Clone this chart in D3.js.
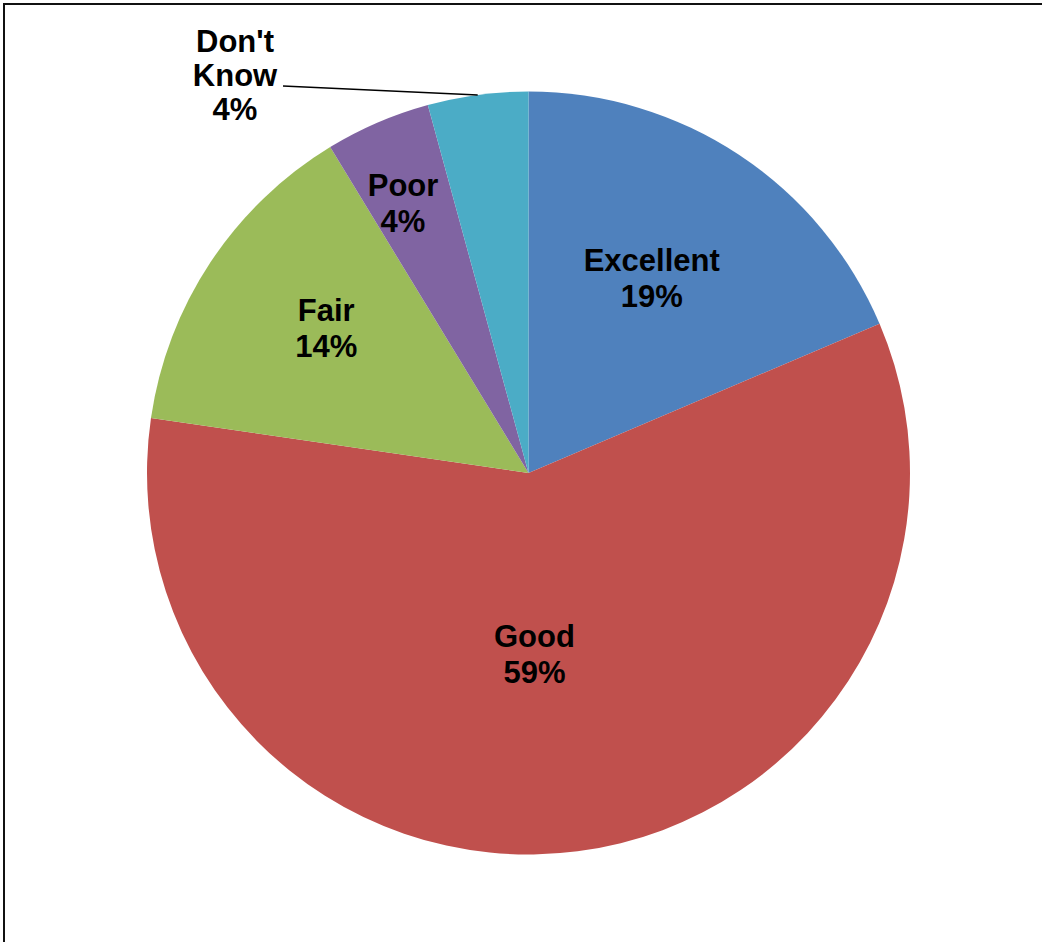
<!DOCTYPE html>
<html>
<head>
<meta charset="utf-8">
<script src="https://cdn.jsdelivr.net/npm/d3@7"></script>
<style>
  html, body { margin: 0; padding: 0; background: #fff; }
  svg { display: block; }
  text { font-family: "Liberation Sans", Arial, sans-serif; font-weight: bold; fill: #000; }
</style>
</head>
<body>
<svg id="chart" width="1042" height="942"></svg>
<script>
// Data
const categories = ["Excellent", "Good", "Fair", "Poor", "Don't Know"];
const values = [18.6, 58.7, 14.0, 4.45, 4.25];
const percentLabels = ["19%", "59%", "14%", "4%", "4%"];
const colors = ["#4F81BD", "#C0504D", "#9BBB59", "#8064A2", "#4BACC6"];

const W = 1042, H = 942;
const cx = 528.5, cy = 473, R = 381.5;
const svg = d3.select("#chart");

// Frame (only top and left edges visible)
svg.append("path")
  .attr("d", `M4,${H} V4 H${W}`)
  .attr("fill", "none")
  .attr("stroke", "#111")
  .attr("stroke-width", 2);

const data = categories.map((c, i) => ({ cat: c, value: values[i], pct: percentLabels[i], color: colors[i] }));

const pie = d3.pie().sort(null).value(d => d.value);
const arcs = pie(data);
const arc = d3.arc().innerRadius(0).outerRadius(R);

const g = svg.append("g").attr("transform", `translate(${cx},${cy})`);

g.selectAll("path.slice")
  .data(arcs)
  .join("path")
  .attr("class", "slice")
  .attr("d", arc)
  .attr("fill", d => d.data.color);

// Label placement (best-fit approximation): radius fraction and angle nudge (degrees)
const labelRadius = [0.605, 0.474, 0.652, 0.781];
const labelNudge = [-1.2, 5.5, 2.1, -1.6];
const fontSize = 31;
const lineH = 36;

arcs.forEach((a, i) => {
  if (i < 4) {
    const ang = (a.startAngle + a.endAngle) / 2 + labelNudge[i] * Math.PI / 180;
    const r = R * labelRadius[i];
    const x = r * Math.sin(ang);
    const y = -r * Math.cos(ang);
    const t = g.append("text")
      .attr("text-anchor", "middle")
      .attr("font-size", fontSize);
    t.append("tspan").attr("x", x).attr("y", y - 7).text(a.data.cat);
    t.append("tspan").attr("x", x).attr("y", y - 7 + lineH).text(a.data.pct);
  }
});

// Outside label with leader line for the last slice
const last = arcs[4];
const edge = d3.arc().innerRadius(R).outerRadius(R).centroid(last);
const labelAnchor = [283 - cx, 86 - cy];
g.append("line")
  .attr("x1", edge[0]).attr("y1", edge[1])
  .attr("x2", labelAnchor[0]).attr("y2", labelAnchor[1])
  .attr("stroke", "#000").attr("stroke-width", 1.5);

const words = last.data.cat.split(" ");
const lx = labelAnchor[0] - 48;
const ot = g.append("text")
  .attr("text-anchor", "middle")
  .attr("font-size", fontSize);
ot.append("tspan").attr("x", lx).attr("y", 52 - cy).text(words[0]);
ot.append("tspan").attr("x", lx).attr("y", 86 - cy).text(words[1]);
ot.append("tspan").attr("x", lx).attr("y", 120 - cy).text(last.data.pct);
</script>
</body>
</html>
